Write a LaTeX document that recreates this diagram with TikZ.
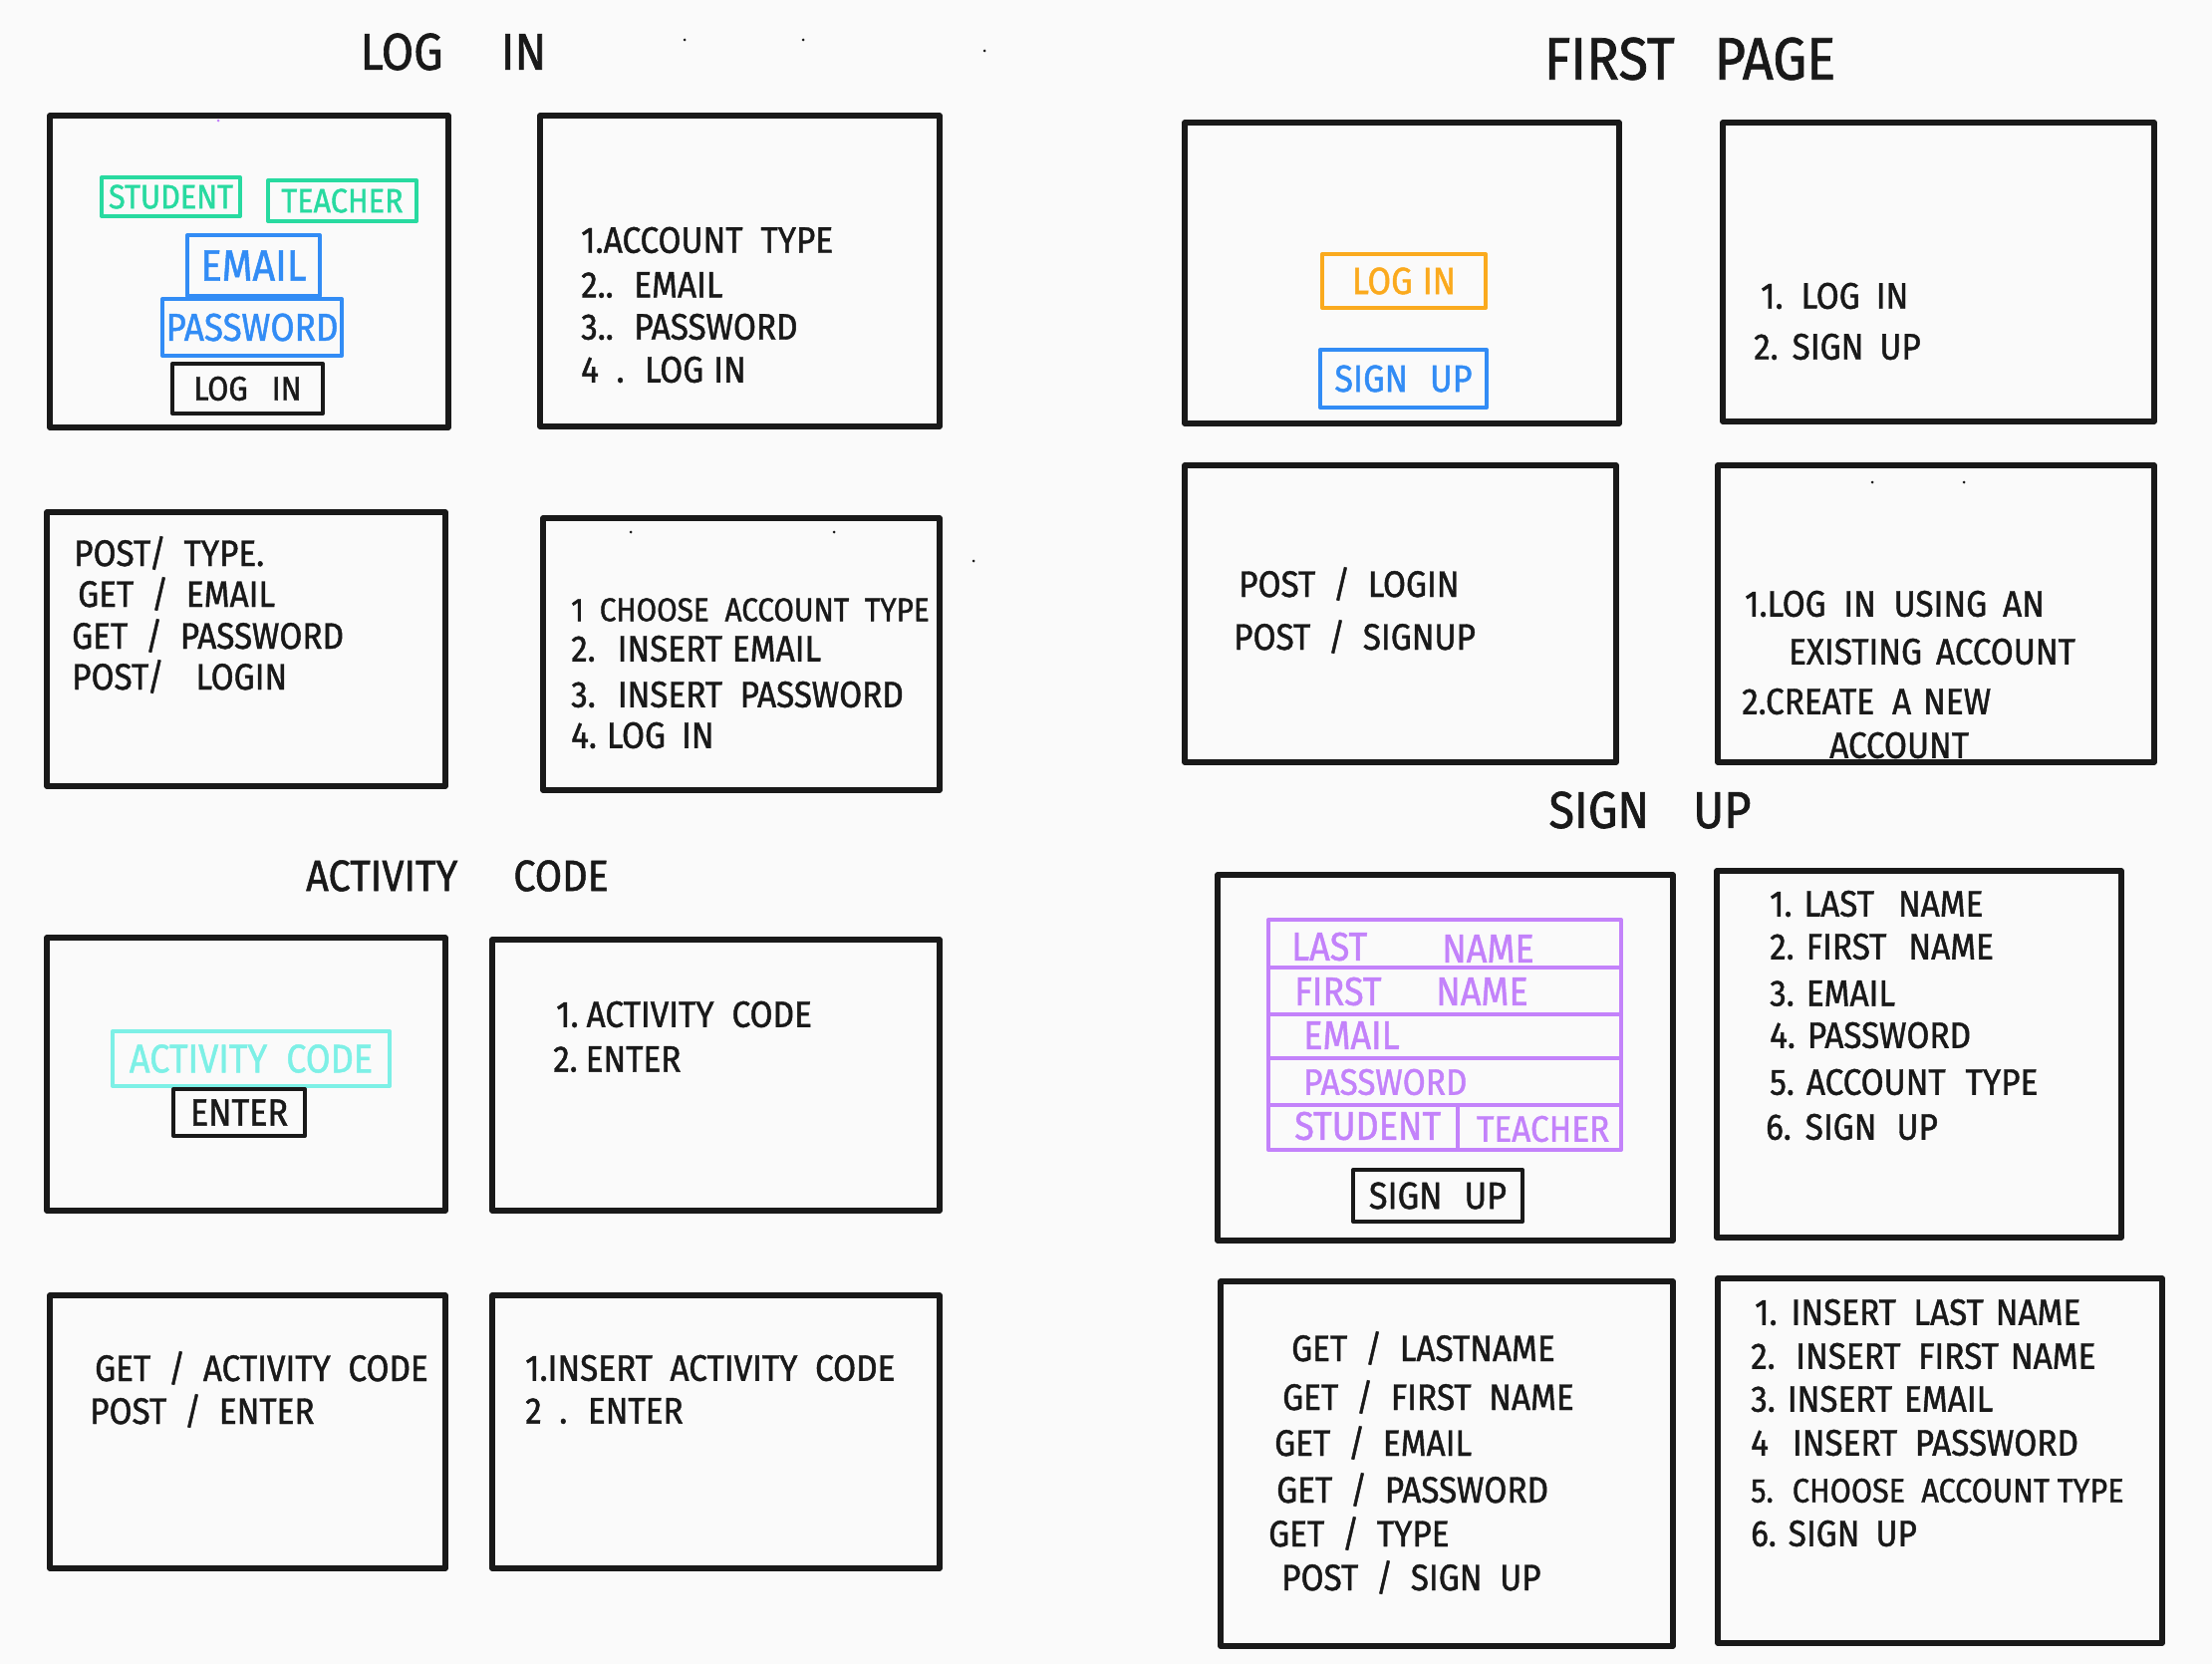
\documentclass[tikz,border=0pt]{standalone}
\usepackage{fontspec}
\setmainfont{Fira Sans}[WordSpace=2.0, FakeStretch=0.9, FakeBold=1.2]
\definecolor{paper}{RGB}{250,250,250}
\definecolor{ink}{RGB}{25,25,25}
\definecolor{mint}{RGB}{40,218,160}
\definecolor{azure}{RGB}{50,140,245}
\definecolor{amber}{RGB}{250,170,30}
\definecolor{aqua}{RGB}{125,240,230}
\definecolor{lilac}{RGB}{195,130,250}
% a rectangle given by its two corners: style, name, x1, y1, x2, y2
\newcommand\mkbox[6]{\node[#1, minimum width={(#5)-(#3)}, minimum height={(#6)-(#4)}]
  (#2) at ({((#3)+(#5))/2},{((#4)+(#6))/2}) {};}
\newcommand\hw[1]{\fontsize{#1}{#1}\selectfont}
\begin{document}
\begin{tikzpicture}[x=1pt,y=-1pt,
  panel/.style={draw=ink, line width=5.5pt, line join=round, inner sep=0pt, outer sep=0pt},
  btn/.style={draw=#1, line width=4pt, line join=round, inner sep=0pt, outer sep=0pt},
  title/.style={text=ink, inner sep=0pt},
  txt/.style={font=\hw{37}, text=ink, anchor=west, inner sep=0pt},
  btntxt/.style={font=\hw{38}, text=#1, inner sep=0pt},
  formtxt/.style={font=\hw{40}, text=lilac, anchor=west, inner sep=0pt},
  speck/.style={fill=ink, inner sep=0pt, minimum size=3pt, circle}
]
\fill[paper] (0,0) rectangle (2220,1670);
\useasboundingbox (0,0) rectangle (2220,1670);

% ---------------- LOG IN ----------------
\node[title, font=\hw{52}] (tLog) at (455,52) {LOG\hspace{58pt}IN};
\mkbox{panel}{l1}{50}{116}{450}{429}
\mkbox{panel}{l2}{542}{116}{943}{428}
\mkbox{panel}{l3}{47}{514}{447}{789}
\mkbox{panel}{l4}{545}{520}{943}{793}

\mkbox{btn=mint}{lStu}{102}{178}{241}{217}
\node[btntxt=mint, font=\hw{34}] (lStuT) at (lStu) {STUDENT};
\mkbox{btn=mint}{lTea}{269}{181}{418}{222}
\node[btntxt=mint, font=\hw{34}] (lTeaT) at (lTea) {TEACHER};
\mkbox{btn=azure}{lEm}{188}{236}{321}{297}
\node[btntxt=azure, font=\hw{44}] (lEmT) at (lEm) {EMAIL};
\mkbox{btn=azure}{lPw}{163}{300}{343}{357}
\node[btntxt=azure, font=\hw{39}] (lPwT) at (lPw) {PASSWORD};
\mkbox{btn=ink}{lGo}{173}{365}{324}{415}
\node[btntxt=ink, font=\hw{34}] (lGoT) at (lGo) {LOG\hspace{24pt}IN};

\node[txt] (l2a) at (583,241) {1.ACCOUNT\hspace{18pt}TYPE};
\node[txt] (l2b) at (583,286) {2.. EMAIL};
\node[txt] (l2c) at (583,328) {3.. PASSWORD};
\node[txt] (l2d) at (583,371) {4 . LOG\hspace{10pt}IN};

\node[txt] (l3a) at (74,555) {POST/ TYPE.};
\node[txt] (l3b) at (78,596) {GET / EMAIL};
\node[txt] (l3c) at (72,638) {GET / PASSWORD};
\node[txt] (l3d) at (72,679) {POST/ \hspace{14pt}LOGIN};

\node[txt, font=\hw{33}] (l4a) at (573,612) {1 CHOOSE ACCOUNT TYPE};
\node[txt] (l4b) at (573,651) {2.\hspace{22pt}INSERT\hspace{10pt}EMAIL};
\node[txt] (l4c) at (573,697) {3.\hspace{22pt}INSERT PASSWORD};
\node[txt] (l4d) at (573,738) {4.\hspace{10pt}LOG\hspace{16pt}IN};

% ---------------- FIRST PAGE ----------------
\node[title, font=\hw{60}] (tFirst) at (1696,59) {FIRST\hspace{40pt}PAGE};
\mkbox{panel}{f1}{1189}{123}{1625}{425}
\mkbox{panel}{f2}{1729}{123}{2162}{423}
\mkbox{panel}{f3}{1189}{467}{1622}{765}
\mkbox{panel}{f4}{1724}{467}{2162}{765}

\mkbox{btn=amber}{fLog}{1327}{255}{1491}{309}
\node[btntxt=amber] (fLogT) at (fLog) {LOG\hspace{10pt}IN};
\mkbox{btn=azure}{fSign}{1325}{351}{1492}{409}
\node[btntxt=azure] (fSignT) at (fSign) {SIGN\hspace{22pt}UP};

\node[txt] (f2a) at (1767,297) {1.\hspace{18pt}LOG\hspace{16pt}IN};
\node[txt] (f2b) at (1760,348) {2.\hspace{14pt}SIGN\hspace{16pt}UP};

\node[txt] (f3a) at (1243,586) {POST / LOGIN};
\node[txt] (f3b) at (1238,639) {POST / SIGNUP};

\node[txt] (f4a) at (1751,606) {1.LOG IN USING\hspace{16pt}AN};
\node[txt] (f4b) at (1795,654) {EXISTING\hspace{14pt}ACCOUNT};
\node[txt] (f4c) at (1748,704) {2.CREATE\hspace{18pt}A\hspace{12pt}NEW};
\node[txt] (f4d) at (1836,748) {ACCOUNT};

% ---------------- ACTIVITY CODE ----------------
\node[title, font=\hw{44}] (tAct) at (459,879) {ACTIVITY\hspace{56pt}CODE};
\mkbox{panel}{a1}{47}{941}{447}{1215}
\mkbox{panel}{a2}{494}{943}{943}{1215}
\mkbox{panel}{a3}{50}{1300}{447}{1574}
\mkbox{panel}{a4}{494}{1300}{943}{1574}

\mkbox{btn=aqua}{aCode}{113}{1035}{391}{1090}
\node[btntxt=aqua, font=\hw{40}] (aCodeT) at (aCode) {ACTIVITY CODE};
\mkbox{btn=ink}{aEnt}{174}{1093}{306}{1140}
\node[btntxt=ink] (aEntT) at (aEnt) {ENTER};

\node[txt] (a2a) at (558,1018) {1.\hspace{8pt}ACTIVITY\hspace{18pt}CODE};
\node[txt] (a2b) at (555,1063) {2.\hspace{8pt}ENTER};

\node[txt] (a3a) at (95,1373) {GET / ACTIVITY CODE};
\node[txt] (a3b) at (90,1416) {POST / ENTER};

\node[txt] (a4a) at (527,1373) {1.INSERT ACTIVITY CODE};
\node[txt] (a4b) at (527,1416) {2 . ENTER};

% ---------------- SIGN UP ----------------
\node[title, font=\hw{52}] (tSign) at (1656,813) {SIGN\hspace{44pt}UP};
\mkbox{panel}{s1}{1222}{878}{1679}{1245}
\mkbox{panel}{s2}{1723}{874}{2129}{1242}
\mkbox{panel}{s3}{1225}{1286}{1679}{1652}
\mkbox{panel}{s4}{1724}{1283}{2170}{1649}

% sign-up form: stacked purple fields
\mkbox{btn=lilac}{sLast}{1273}{923}{1627}{971}
\mkbox{btn=lilac}{sFirst}{1273}{971}{1627}{1018}
\mkbox{btn=lilac}{sMail}{1273}{1018}{1627}{1062}
\mkbox{btn=lilac}{sPass}{1273}{1062}{1627}{1109}
\mkbox{btn=lilac}{sStu}{1273}{1109}{1463}{1154}
\mkbox{btn=lilac}{sTea}{1463}{1109}{1627}{1154}
\node[formtxt] (sLastT) at (1296,950) {LAST};
\node[formtxt] (sLastN) at (1447,952) {NAME};
\node[formtxt] (sFirstT) at (1299,995) {FIRST};
\node[formtxt] (sFirstN) at (1441,995) {NAME};
\node[formtxt] (sMailT) at (1308,1039) {EMAIL};
\node[formtxt, font=\hw{37}] (sPassT) at (1308,1086) {PASSWORD};
\node[formtxt] (sStuT) at (1299,1130) {STUDENT};
\node[formtxt, font=\hw{37}] (sTeaT) at (1482,1133) {TEACHER};
\mkbox{btn=ink}{sGo}{1358}{1174}{1528}{1226}
\node[btntxt=ink] (sGoT) at (sGo) {SIGN\hspace{22pt}UP};

\node[txt] (s2a) at (1776,907) {1.\hspace{12pt}LAST\hspace{24pt}NAME};
\node[txt] (s2b) at (1776,950) {2.\hspace{12pt}FIRST\hspace{22pt}NAME};
\node[txt] (s2c) at (1776,997) {3.\hspace{12pt}EMAIL};
\node[txt] (s2d) at (1776,1039) {4.\hspace{12pt}PASSWORD};
\node[txt] (s2e) at (1776,1086) {5.\hspace{12pt}ACCOUNT\hspace{20pt}TYPE};
\node[txt] (s2f) at (1772,1131) {6.\hspace{14pt}SIGN\hspace{20pt}UP};

\node[txt] (s3a) at (1296,1353) {GET / LASTNAME};
\node[txt] (s3b) at (1287,1402) {GET / FIRST NAME};
\node[txt] (s3c) at (1279,1448) {GET / EMAIL};
\node[txt] (s3d) at (1281,1495) {GET / PASSWORD};
\node[txt] (s3e) at (1273,1539) {GET / TYPE};
\node[txt] (s3f) at (1286,1583) {POST / SIGN UP};

\node[txt] (s4a) at (1761,1317) {1.\hspace{14pt}INSERT LAST\hspace{12pt}NAME};
\node[txt] (s4b) at (1757,1361) {2. INSERT FIRST\hspace{12pt}NAME};
\node[txt] (s4c) at (1757,1404) {3.\hspace{12pt}INSERT\hspace{12pt}EMAIL};
\node[txt] (s4d) at (1757,1448) {4\hspace{24pt}INSERT PASSWORD};
\node[txt, font=\hw{34}] (s4e) at (1757,1496) {5. CHOOSE ACCOUNT\hspace{8pt}TYPE};
\node[txt] (s4f) at (1757,1539) {6.\hspace{12pt}SIGN\hspace{16pt}UP};

% stray pen dots
\node[speck] (d1) at (687,40) {};
\node[speck] (d2) at (806,40) {};
\node[speck] (d3) at (988,51) {};
\node[speck] (d4) at (633,534) {};
\node[speck] (d5) at (837,534) {};
\node[speck] (d6) at (977,563) {};
\node[speck] (d7) at (1879,484) {};
\node[speck] (d8) at (1971,484) {};
\node[speck, fill=lilac] (d9) at (219,121) {};
\end{tikzpicture}
\end{document}
